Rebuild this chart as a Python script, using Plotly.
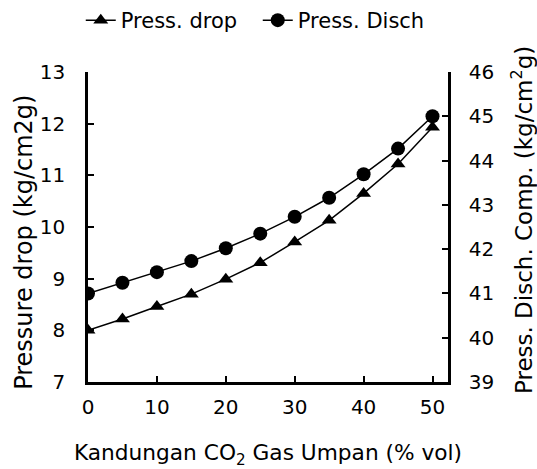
import plotly.graph_objects as go

co2 = [0, 5, 10, 15, 20, 25, 30, 35, 40, 45, 50]
press_drop = [8.0, 8.22, 8.46, 8.7, 8.99, 9.31, 9.71, 10.13, 10.65, 11.22, 11.93]
press_disch = [41.0, 41.24, 41.48, 41.73, 42.02, 42.35, 42.73, 43.16, 43.69, 44.27, 45.0]

FONT = "Verdana, DejaVu Sans, sans-serif"
FS = 20

fig = go.Figure()
fig.add_trace(go.Scatter(
    x=co2, y=press_drop, name="Press. drop", mode="lines+markers",
    line=dict(color="black", width=1.5),
    marker=dict(symbol="triangle-up", size=13, color="black"),
))
fig.add_trace(go.Scatter(
    x=co2, y=press_disch, name="Press. Disch", mode="lines+markers", yaxis="y2",
    line=dict(color="black", width=1.5),
    marker=dict(symbol="circle", size=14, color="black"),
))

axis_common = dict(
    showgrid=False, zeroline=False, showline=True, linecolor="black", linewidth=2.5,
    ticks="inside", ticklen=6, tickwidth=2, tickcolor="black", automargin=False,
    tickfont=dict(family=FONT, size=FS, color="black"),
)

fig.update_layout(
    width=537, height=469,
    margin=dict(l=88, r=89, t=72, b=87, autoexpand=False),
    paper_bgcolor="white", plot_bgcolor="white",
    font=dict(family=FONT, size=FS, color="black"),
    showlegend=True,
    legend=dict(orientation="h", x=0.48, xanchor="center", xref="container",
                y=1.0, yanchor="top", yref="container",
                font=dict(family=FONT, size=21, color="black"),
                entrywidth=132, traceorder="normal"),
    xaxis=dict(range=[0, 52.25], tickvals=[0, 10, 20, 30, 40, 50], ticklabelstandoff=5,
               title=dict(text="Kandungan CO<sub>2</sub> Gas Umpan (% vol)", standoff=31,
                          font=dict(family=FONT, size=21.7)), **axis_common),
    yaxis=dict(range=[7, 13], dtick=1, ticklabelstandoff=16, **axis_common),
    yaxis2=dict(range=[39, 46], dtick=1, overlaying="y", side="right", ticklabelstandoff=14,
                **axis_common),
    annotations=[
        dict(text="Pressure drop (kg/cm2g)", textangle=-90, xref="paper", yref="paper",
             x=-0.178, y=0.452, xanchor="center", yanchor="middle", showarrow=False,
             font=dict(family=FONT, size=24, color="black")),
        dict(text="Press. Disch. Comp. (kg/cm<sup>2</sup>g)", textangle=-90, xref="paper", yref="paper",
             x=1.206, y=0.523, xanchor="center", yanchor="middle", showarrow=False,
             font=dict(family=FONT, size=23, color="black")),
    ],
)

fig.write_html("out.html", config={"displayModeBar": False},
               post_script="document.body.style.margin='0';")
